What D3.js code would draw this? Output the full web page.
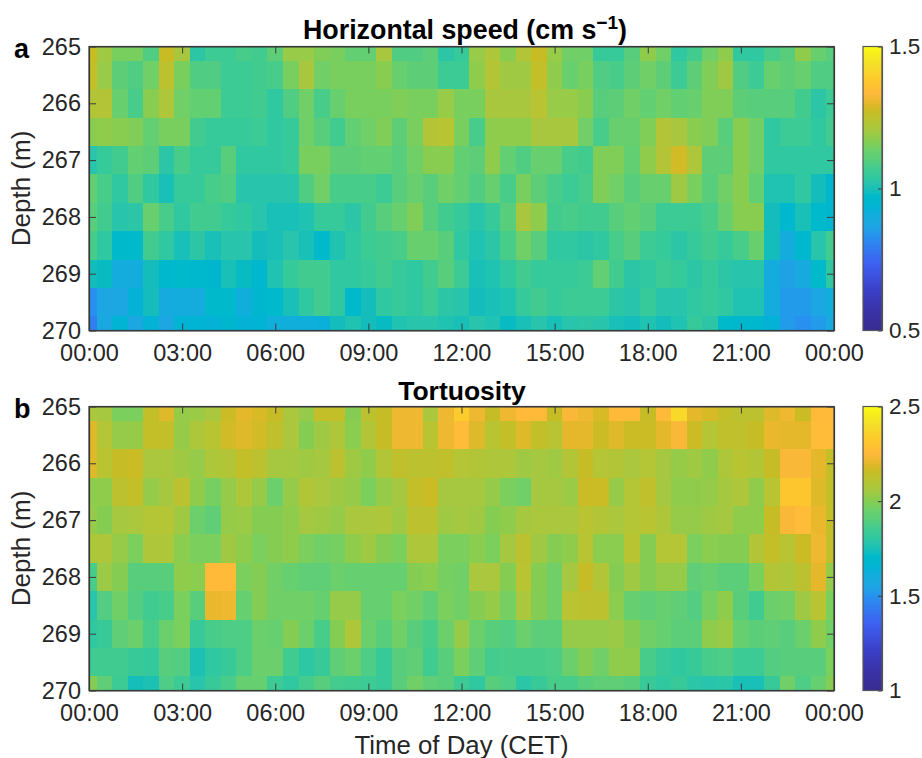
<!DOCTYPE html>
<html>
<head>
<meta charset="utf-8">
<script src="https://cdn.jsdelivr.net/npm/d3@7"></script>
<style>
html,body{margin:0;padding:0;background:#fff;}
svg{display:block;}
text{font-family:"Liberation Sans",Arial,sans-serif;}
</style>
</head>
<body>
<svg id="chart" width="922" height="758"></svg>
<script>
const hours = d3.range(0, 24.5, 0.5);
const depths = [265,265.5,266,266.5,267,267.5,268,268.5,269,269.5,270];
const timeTicks = [0,3,6,9,12,15,18,21,24];
const depthTicks = [265,266,267,268,269,270];

const speed0 = [1.27,1.20,1.15,1.15,1.09,1.27,1.21,1.03,1.06,1.06,1.08,1.07,1.11,1.19,1.19,1.16,1.15,1.12,1.12,1.21,1.09,1.09,1.11,1.03,1.05,1.19,1.22,1.17,1.23,1.27,1.19,1.14,1.14,1.05,1.05,1.10,1.18,1.14,1.04,1.07,1.14,1.18,1.04,1.04,1.08,1.10,1.18,1.13,1.10];
const speed1 = [1.26,1.19,1.11,1.09,1.14,1.25,1.15,1.09,1.09,1.06,1.06,1.07,1.08,1.15,1.21,1.14,1.15,1.15,1.15,1.17,1.13,1.11,1.11,1.06,1.06,1.18,1.23,1.20,1.20,1.26,1.18,1.13,1.15,1.09,1.08,1.11,1.14,1.11,1.06,1.11,1.16,1.20,1.09,1.06,1.13,1.11,1.13,1.09,1.09];
const speed2 = [1.23,1.23,1.13,1.08,1.17,1.22,1.14,1.12,1.12,1.06,1.06,1.07,1.04,1.09,1.14,1.08,1.13,1.15,1.15,1.15,1.16,1.15,1.15,1.19,1.15,1.15,1.21,1.21,1.21,1.24,1.19,1.19,1.17,1.10,1.11,1.14,1.12,1.14,1.12,1.13,1.16,1.16,1.11,1.10,1.10,1.10,1.07,1.03,1.06];
const speed3 = [1.17,1.18,1.17,1.16,1.12,1.15,1.15,1.07,1.05,1.05,1.05,1.06,1.04,1.05,1.14,1.10,1.07,1.12,1.14,1.16,1.11,1.15,1.23,1.24,1.15,1.08,1.18,1.18,1.18,1.21,1.21,1.21,1.14,1.08,1.13,1.13,1.16,1.23,1.21,1.17,1.16,1.10,1.17,1.14,1.04,1.06,1.06,1.04,1.07];
const speed4 = [1.02,1.05,1.07,1.12,1.11,1.03,1.08,1.05,1.05,1.10,1.04,1.04,1.04,1.05,1.15,1.15,1.11,1.11,1.12,1.12,1.10,1.14,1.17,1.17,1.12,1.11,1.18,1.12,1.09,1.13,1.13,1.08,1.07,1.16,1.16,1.12,1.18,1.23,1.28,1.22,1.11,1.11,1.17,1.14,1.04,1.04,1.04,1.04,1.04];
const speed5 = [1.12,1.08,1.04,1.09,1.04,1.00,1.05,1.05,1.08,1.09,1.02,1.02,1.02,1.02,1.09,1.14,1.08,1.08,1.08,1.06,1.10,1.13,1.10,1.14,1.12,1.09,1.13,1.08,1.15,1.11,1.08,1.06,1.08,1.16,1.14,1.10,1.13,1.13,1.20,1.15,1.10,1.14,1.17,1.12,1.01,1.01,1.04,0.99,0.95];
const speed6 = [1.10,1.07,1.02,1.03,1.13,1.08,1.04,1.07,1.07,1.05,1.04,1.02,1.00,1.00,1.01,1.05,1.05,1.03,1.07,1.10,1.13,1.16,1.10,1.07,1.05,1.02,1.05,1.10,1.21,1.18,1.07,1.08,1.07,1.07,1.10,1.12,1.10,1.06,1.06,1.06,1.08,1.13,1.17,1.17,0.99,0.96,1.00,0.97,0.95];
const speed7 = [1.08,1.04,0.97,0.97,1.07,1.04,1.00,1.03,1.00,1.02,1.02,0.99,1.00,1.02,1.00,0.97,1.01,1.04,1.06,1.07,1.08,1.13,1.13,1.10,1.04,1.01,1.03,1.08,1.14,1.10,1.04,1.04,1.03,1.04,1.08,1.10,1.06,1.05,1.03,1.05,1.07,1.05,1.08,1.13,0.99,0.90,0.96,1.02,1.07];
const speed8 = [0.99,0.98,0.90,0.90,0.99,0.96,0.97,0.96,0.95,1.00,0.98,0.96,1.01,1.05,1.07,1.07,1.04,1.04,1.05,1.07,1.05,1.04,1.07,1.10,1.06,1.00,1.01,1.04,1.07,1.05,1.05,1.05,1.06,1.12,1.07,1.03,1.04,1.06,1.05,1.03,1.05,1.03,1.02,1.02,0.90,0.86,0.89,0.97,1.04];
const speed9 = [0.83,0.87,0.87,0.93,0.99,0.89,0.90,0.90,0.97,0.97,0.91,0.95,0.97,1.00,1.04,1.07,1.04,0.97,0.99,1.04,1.05,1.04,1.06,1.03,1.02,0.99,1.00,1.01,1.05,1.07,1.05,1.06,1.06,1.06,1.03,1.02,1.05,1.02,1.02,1.04,1.05,1.04,1.01,1.01,0.90,0.85,0.85,0.87,0.91];
const speed10 = [0.80,0.88,0.94,0.87,0.93,0.87,0.94,0.94,0.93,0.95,0.93,0.94,0.91,0.91,0.91,0.92,0.99,1.01,0.99,0.98,1.01,1.02,1.02,1.01,1.00,1.02,1.01,0.98,1.00,1.02,1.00,1.02,1.03,1.02,1.00,0.99,1.01,0.99,1.01,1.05,1.03,0.97,0.96,0.96,0.93,0.85,0.83,0.85,0.89];

const tort0 = [2.07,2.06,1.98,1.98,2.14,2.19,2.03,2.04,2.07,2.16,2.20,2.18,2.15,2.07,2.03,2.14,2.14,2.00,2.12,2.15,2.22,2.22,2.07,2.22,2.33,2.22,2.15,2.22,2.26,2.26,2.15,2.24,2.22,2.18,2.26,2.26,2.15,2.26,2.38,2.20,2.18,2.14,2.12,2.12,2.19,2.22,2.16,2.26,2.26];
const tort1 = [2.19,2.10,2.03,2.03,2.14,2.14,2.03,2.08,2.11,2.17,2.19,2.17,2.13,2.07,2.00,2.05,2.08,2.01,2.09,2.15,2.22,2.22,2.11,2.22,2.27,2.19,2.11,2.14,2.19,2.14,2.11,2.20,2.20,2.16,2.19,2.16,2.16,2.20,2.24,2.16,2.10,2.13,2.13,2.15,2.21,2.20,2.20,2.27,2.27];
const tort2 = [2.19,2.11,2.15,2.16,2.07,2.07,2.05,2.03,2.08,2.09,2.14,2.12,2.06,2.06,2.05,2.06,2.12,2.05,2.02,2.09,2.13,2.12,2.12,2.13,2.10,2.09,2.08,2.08,2.05,2.06,2.05,2.09,2.15,2.10,2.09,2.07,2.10,2.06,2.03,2.05,2.02,2.08,2.11,2.09,2.15,2.24,2.24,2.20,2.14];
const tort3 = [2.02,2.02,2.12,2.14,2.03,2.06,2.12,2.02,1.97,2.03,2.08,2.03,1.95,2.03,2.09,2.07,2.05,2.03,1.98,2.03,2.06,2.14,2.16,2.06,2.06,2.06,2.03,1.98,1.96,2.06,2.06,2.04,2.16,2.16,2.03,2.10,2.13,2.06,2.02,2.02,2.03,2.06,2.08,2.02,2.11,2.31,2.31,2.19,2.14];
const tort4 = [2.03,2.00,2.06,2.07,2.10,2.10,2.05,1.95,1.92,2.03,2.04,2.00,2.00,2.02,2.06,2.05,2.03,2.07,2.07,2.08,2.05,2.12,2.12,2.05,2.06,2.05,2.00,2.02,2.06,2.07,2.07,2.07,2.11,2.09,2.07,2.10,2.11,2.08,2.03,2.03,2.05,2.06,2.02,2.02,2.15,2.24,2.27,2.21,2.14];
const tort5 = [2.08,2.08,2.03,1.98,2.08,2.08,2.01,1.98,1.98,2.05,2.02,1.98,2.00,2.02,1.98,1.96,1.97,2.02,2.05,2.00,1.98,2.08,2.08,1.98,1.98,2.01,1.98,2.06,2.12,2.05,2.00,2.02,2.11,2.01,2.01,2.11,2.00,2.10,2.10,1.98,2.01,2.00,2.00,2.09,2.14,2.11,2.16,2.22,2.14];
const tort6 = [1.87,2.04,2.00,1.90,1.90,1.90,2.02,2.01,2.26,2.26,1.98,2.00,1.96,1.94,1.92,1.92,1.95,1.94,1.94,1.94,1.94,2.00,2.01,1.97,1.96,2.07,2.07,2.00,2.11,2.00,1.96,2.06,2.15,2.09,2.00,2.05,2.00,2.03,2.03,1.92,1.94,1.91,1.91,1.98,2.09,2.08,2.12,2.20,2.03];
const tort7 = [1.78,1.89,1.96,1.89,1.85,1.87,1.98,1.90,2.21,2.22,1.94,2.00,1.96,1.96,1.96,1.94,2.03,2.03,1.94,1.94,1.98,1.96,1.92,1.98,1.96,2.00,2.03,1.97,2.07,2.00,1.96,2.11,2.12,2.12,2.01,1.94,1.92,1.94,1.92,1.89,1.97,2.02,1.90,1.85,1.95,1.96,2.05,2.11,1.98];
const tort8 = [1.81,1.83,1.92,1.95,1.87,1.95,1.98,1.83,1.87,1.88,1.88,1.95,1.94,2.00,1.95,1.87,2.00,2.08,1.95,1.90,1.96,1.90,1.87,1.95,2.03,1.95,1.90,1.89,1.95,1.91,1.91,2.03,2.03,2.03,2.04,2.00,1.96,1.94,1.91,1.91,2.02,2.04,1.94,1.91,1.92,1.90,1.95,2.02,1.96];
const tort9 = [1.85,1.85,1.85,1.83,1.82,1.90,1.89,1.76,1.81,1.83,1.88,1.95,1.95,1.85,1.80,1.83,1.92,1.95,1.88,1.83,1.90,1.92,1.85,1.90,1.98,1.92,1.86,1.87,1.87,1.87,1.88,1.95,2.00,1.96,2.02,2.02,1.87,1.83,1.81,1.83,1.87,1.88,1.84,1.84,1.89,1.90,1.90,1.90,1.98];
const tort10 = [2.00,1.92,1.84,1.74,1.76,1.88,1.84,1.78,1.83,1.87,1.94,1.94,1.84,1.81,1.86,1.90,1.86,1.85,1.84,1.83,1.90,1.96,1.92,1.90,1.84,1.81,1.90,1.88,1.79,1.83,1.87,1.87,1.90,1.92,1.92,1.90,1.83,1.81,1.83,1.79,1.78,1.79,1.75,1.75,1.83,1.96,1.88,1.94,2.00];

const speedRows = [speed0,speed1,speed2,speed3,speed4,speed5,speed6,speed7,speed8,speed9,speed10];
const tortRows = [tort0,tort1,tort2,tort3,tort4,tort5,tort6,tort7,tort8,tort9,tort10];

const cmapT = [0,.07,.14,.235,.30,.33,.35,.37,.39,.41,.43,.45,.47,.48,.49,.50,.52,.54,.58,.60,.63,.65,.67,.69,.71,.74,.77,.80,.835,.88,.94,1];
const cmapC = ["#382c8f","#3a33a8","#3b3fc6","#3d60f2","#3080f0","#2890ee","#229cea","#1ca6e2","#16aade","#10aedb","#04b2d6","#00b6cf","#00b9ca","#08bbc3","#14bdbc","#18c0b8","#28c4ac","#30c8a0","#48cc8a","#58ce7c","#68cf6e","#78cf5e","#88cd50","#98cb48","#a8c73e","#b8c432","#c8bc24","#e4b82a","#ffb83c","#fdc82c","#f5e028","#fafa14"];
const cmap = d3.scaleLinear().domain(cmapT).range(cmapC).clamp(true);

const panels = [
  {id:"a", rows:speedRows, top:46.5, bottom:330.5, cmin:.5, cmax:1.5, cticks:[.5,1,1.5], letter:"a"},
  {id:"b", rows:tortRows, top:406.5, bottom:690.5, cmin:1, cmax:2.5, cticks:[1,1.5,2,2.5], letter:"b"}
];
const left = 89, right = 834, cbL = 863, cbR = 882;
const axisCol = "#3a3a3a";
const textCol = "#262626";
const svg = d3.select("#chart");
const defs = svg.append("defs");
defs.append("filter").attr("id","soft").attr("x","0").attr("y","0").attr("width","1").attr("height","1")
  .attr("color-interpolation-filters","sRGB")
  .append("feGaussianBlur").attr("stdDeviation",0.55);
const x = d3.scaleLinear().domain([0,24]).range([left,right]);
const fmtTime = h => String(h===24?0:h).padStart(2,"0")+":00";

function styleAxis(g, size){
  g.selectAll("path.domain").attr("stroke",axisCol).attr("stroke-width",1.2);
  g.selectAll(".tick line").attr("stroke",axisCol).attr("stroke-width",1);
  g.selectAll(".tick text").attr("fill",textCol).attr("font-size",size).attr("font-family",'"Liberation Sans",Arial,sans-serif');
}

panels.forEach(p => {
  const y = d3.scaleLinear().domain([265,270]).range([p.top,p.bottom]);
  const norm = d3.scaleLinear().domain([p.cmin,p.cmax]).range([0,1]);
  const g = svg.append("g").attr("filter","url(#soft)").attr("shape-rendering","crispEdges");
  p.rows.forEach((row,ri) => {
    const d0 = Math.max(265, depths[ri]-.25), d1 = Math.min(270, depths[ri]+.25);
    g.selectAll(null).data(row).join("rect")
      .attr("x",(v,i)=>x(Math.max(0,hours[i]-.25)))
      .attr("width",(v,i)=>x(Math.min(24,hours[i]+.25))-x(Math.max(0,hours[i]-.25)))
      .attr("y",y(d0))
      .attr("height",y(d1)-y(d0))
      .attr("fill",v=>cmap(norm(v)));
  });

  const bottomAx = svg.append("g").attr("transform",`translate(0,${p.bottom})`)
    .call(d3.axisBottom(x).tickValues(timeTicks).tickFormat(fmtTime).tickSizeInner(-7).tickSizeOuter(0).tickPadding(14));
  styleAxis(bottomAx,23.5);
  const topAx = svg.append("g").attr("transform",`translate(0,${p.top})`)
    .call(d3.axisTop(x).tickValues(timeTicks).tickFormat("").tickSizeInner(-7).tickSizeOuter(0));
  styleAxis(topAx,23.5);
  const leftAx = svg.append("g").attr("transform",`translate(${left},0)`)
    .call(d3.axisLeft(y).tickValues(depthTicks).tickFormat(d3.format("d")).tickSizeInner(-7).tickSizeOuter(0).tickPadding(8));
  styleAxis(leftAx,23.5);
  const rightAx = svg.append("g").attr("transform",`translate(${right},0)`)
    .call(d3.axisRight(y).tickValues(depthTicks).tickFormat("").tickSizeInner(-7).tickSizeOuter(0));
  styleAxis(rightAx,23.5);

  svg.append("text").attr("transform",`translate(30,${(p.top+p.bottom)/2}) rotate(-90)`)
    .attr("text-anchor","middle").attr("font-size",26).attr("fill",textCol).text("Depth (m)");
  svg.append("text").attr("x",14).attr("y",p.top+11).attr("font-size",27).attr("font-weight","bold").attr("fill","#000").text(p.letter);

  const cy = d3.scaleLinear().domain([p.cmin,p.cmax]).range([p.bottom,p.top]);
  const cbGrad = defs.append("linearGradient").attr("id","grad"+p.id).attr("x1",0).attr("y1",1).attr("x2",0).attr("y2",0);
  cbGrad.selectAll("stop").data(cmapT).join("stop")
    .attr("offset",t=>t).attr("stop-color",(t,i)=>cmapC[i]);
  svg.append("rect").attr("x",cbL).attr("y",cy(p.cmax)).attr("width",cbR-cbL)
    .attr("height",cy(p.cmin)-cy(p.cmax)).attr("fill",`url(#grad${p.id})`);
  const cAx = svg.append("g").attr("transform",`translate(${cbR},0)`)
    .call(d3.axisRight(cy).tickValues(p.cticks).tickFormat(d3.format("")).tickSizeInner(-4).tickSizeOuter(0).tickPadding(7));
  styleAxis(cAx,22.5);
  cAx.selectAll("path.domain").attr("stroke","#555");
  svg.append("rect").attr("x",cbL).attr("y",p.top).attr("width",cbR-cbL).attr("height",p.bottom-p.top)
    .attr("fill","none").attr("stroke","#555").attr("stroke-width",1.2);
  svg.append("rect").attr("x",left).attr("y",p.top).attr("width",right-left).attr("height",p.bottom-p.top)
    .attr("fill","none").attr("stroke",axisCol).attr("stroke-width",1.2);
});

const t1 = svg.append("text").attr("x",465).attr("y",39).attr("text-anchor","middle")
  .attr("font-size",26.8).attr("font-weight","bold").attr("fill","#000");
t1.append("tspan").text("Horizontal speed (cm s");
t1.append("tspan").attr("dy",-10).attr("font-size",19).text("\u22121");
t1.append("tspan").attr("dy",10).text(")");
svg.append("text").attr("x",462).attr("y",400).attr("text-anchor","middle")
  .attr("font-size",26.5).attr("font-weight","bold").attr("fill","#000").text("Tortuosity");
svg.append("text").attr("x",461.5).attr("y",753.5).attr("text-anchor","middle")
  .attr("font-size",25.8).attr("fill",textCol).text("Time of Day (CET)");
</script>
</body>
</html>
